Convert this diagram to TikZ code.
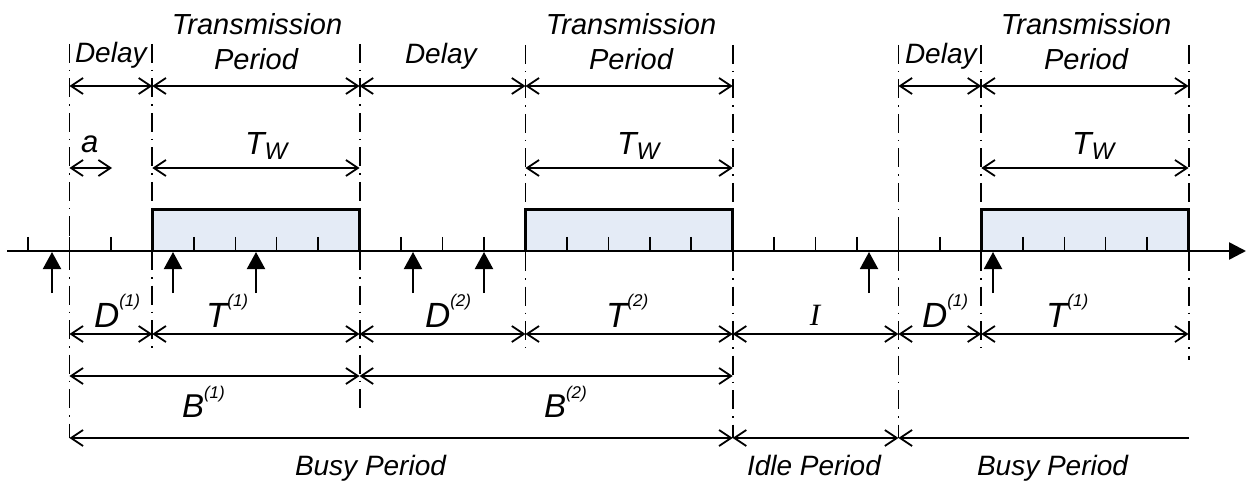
\documentclass[tikz,border=0pt]{standalone}
\usepackage{fontspec}
\setmainfont{Liberation Sans}
\newfontfamily\timesit{Liberation Serif}
\usetikzlibrary{arrows.meta}
\definecolor{boxfill}{HTML}{E4EBF6}
\newcommand{\fsz}[1]{\fontsize{#1}{#1}\selectfont}
\newcommand{\suplbl}[4]{{\fsz{#1}#2}\raisebox{#4}{\fsz{17}#3}}
\begin{document}
\begin{tikzpicture}[x=1pt,y=-1pt,
  every node/.style={inner sep=0pt, outer sep=0pt, font=\itshape},
  dim/.style={line width=1.6pt, >={Straight Barb[length=12pt,width=16pt,line width=1.8pt]}},
  vline/.style={line width=1.8pt, dash pattern=on 19pt off 7pt on 1.5pt off 7pt},
  tickst/.style={line width=1.5pt},
  axisst/.style={line width=2.4pt, -{Triangle[length=17pt,width=17pt]}},
  arrival/.style={line width=2pt, -{Triangle[length=17pt,width=18pt]}},
  boxborder/.style={line width=3pt},
  lbl/.style={font=\itshape\fontsize{28}{34}\selectfont, anchor=base west},
  ttl/.style={font=\itshape\fontsize{29}{34}\selectfont, anchor=base}
]
\useasboundingbox (0,0) rectangle (1246,486);
% boundaries
\coordinate (X1) at (69.45,0);
\coordinate (X2) at (152.35,0);
\coordinate (X3) at (359.6,0);
\coordinate (X4) at (525.4,0);
\coordinate (X5) at (732.65,0);
\coordinate (X6) at (898.45,0);
\coordinate (X7) at (981.35,0);
\coordinate (X8) at (1188.6,0);
\coordinate (Xa) at (112,0);
% rows
\coordinate (Rtop) at (0,86);
\coordinate (Rtw) at (0,168);
\coordinate (Rdt) at (0,334);
\coordinate (Rb) at (0,376);
\coordinate (Rbusy) at (0,438);
\coordinate (Bt) at (0,210);
\coordinate (Ax) at (0,251);
\coordinate (axL) at (7,251);
\coordinate (axR) at (1246,251);

% box fills
\fill[boxfill] (X2 |- Bt) rectangle (X3 |- Ax);
\fill[boxfill] (X4 |- Bt) rectangle (X5 |- Ax);
\fill[boxfill] (X7 |- Bt) rectangle (X8 |- Ax);

% ticks
\foreach \i in {0,...,28}
  \draw[tickst] ({28+41.45*\i},237) -- ({28+41.45*\i},251);

% axis
\draw[axisst] (axL) -- (axR);

% vertical dash-dot lines
\draw[vline] (X1 |- 0,44) -- (X1 |- 0,438);
\draw[vline] (X2 |- 0,44) -- (X2 |- 0,348);
\draw[vline] (X3 |- 0,44) -- (X3 |- 0,410);
\draw[vline] (X4 |- 0,45) -- (X4 |- 0,348);
\draw[vline] (X5 |- 0,45) -- (X5 |- 0,438);
\draw[vline] (X6 |- 0,45) -- (X6 |- 0,438);
\draw[vline] (X7 |- 0,45) -- (X7 |- 0,348);
\draw[vline] (X8 |- 0,45) -- (X8 |- 0,360);

% box borders
\draw[boxborder] (X2 |- Ax) -- (X2 |- Bt) -- (X3 |- Bt) -- (X3 |- Ax);
\draw[boxborder] (X4 |- Ax) -- (X4 |- Bt) -- (X5 |- Bt) -- (X5 |- Ax);
\draw[boxborder] (X7 |- Ax) -- (X7 |- Bt) -- (X8 |- Bt) -- (X8 |- Ax);

% arrivals
\foreach \x in {52,173,256,413,484,869,993}
  \draw[arrival] (\x,293) -- (\x,252);

% top row dimension arrows
\draw[dim,<->] (X1 |- Rtop) -- (X2 |- Rtop);
\draw[dim,<->] (X2 |- Rtop) -- (X3 |- Rtop);
\draw[dim,<->] (X3 |- Rtop) -- (X4 |- Rtop);
\draw[dim,<->] (X4 |- Rtop) -- (X5 |- Rtop);
\draw[dim,<->] (X6 |- Rtop) -- (X7 |- Rtop);
\draw[dim,<->] (X7 |- Rtop) -- (X8 |- Rtop);
% T_W row
\draw[dim,<->] (X1 |- Rtw) -- (Xa |- Rtw);
\draw[dim,<->] (X2 |- Rtw) -- (X3 |- Rtw);
\draw[dim,<->] (X4 |- Rtw) -- (X5 |- Rtw);
\draw[dim,<->] (X7 |- Rtw) -- (X8 |- Rtw);
% D/T row
\draw[dim,<->] (X1 |- Rdt) -- (X2 |- Rdt);
\draw[dim,<->] (X2 |- Rdt) -- (X3 |- Rdt);
\draw[dim,<->] (X3 |- Rdt) -- (X4 |- Rdt);
\draw[dim,<->] (X4 |- Rdt) -- (X5 |- Rdt);
\draw[dim,<->] (X5 |- Rdt) -- (X6 |- Rdt);
\draw[dim,<->] (X6 |- Rdt) -- (X7 |- Rdt);
\draw[dim,<->] (X7 |- Rdt) -- (X8 |- Rdt);
% B row
\draw[dim,<->] (X1 |- Rb) -- (X3 |- Rb);
\draw[dim,<->] (X3 |- Rb) -- (X5 |- Rb);
% busy row
\draw[dim,<->] (X1 |- Rbusy) -- (X5 |- Rbusy);
\draw[dim,<->] (X5 |- Rbusy) -- (X6 |- Rbusy);
\draw[dim,<-] (X6 |- Rbusy) -- (X8 |- Rbusy);

% top labels
\node[lbl] (dl1) at (75,63) {Delay};
\node[lbl] (dl2) at (405,64) {Delay};
\node[lbl] (dl3) at (905,64) {Delay};
\node[ttl] (tr1) at (257,35) {Transmission};
\node[ttl] (pe1) at (256,70) {Period};
\node[ttl] (tr2) at (631,35) {Transmission};
\node[ttl] (pe2) at (631,70) {Period};
\node[ttl] (tr3) at (1086,35) {Transmission};
\node[ttl] (pe3) at (1086,70) {Period};

% T_W labels
\node[anchor=base west] (tw1) at (245,155) {{\fsz{32}T}\raisebox{-5pt}{\fsz{24}W}};
\node[anchor=base west] (tw2) at (617,155) {{\fsz{32}T}\raisebox{-5pt}{\fsz{24}W}};
\node[anchor=base west] (tw3) at (1072,155) {{\fsz{32}T}\raisebox{-5pt}{\fsz{24}W}};
\node[anchor=base west] (alb) at (81,153) {\fsz{31}a};

% below labels
\node[anchor=base west] (d1) at (94,327) {\suplbl{35}{D}{(1)}{21pt}};
\node[anchor=base west] (t1) at (206,327) {\suplbl{35}{T}{(1)}{21pt}};
\node[anchor=base west] (d2) at (425,327) {\suplbl{35}{D}{(2)}{21pt}};
\node[anchor=base west] (t2) at (606,327) {\suplbl{35}{T}{(2)}{21pt}};
\node[anchor=base] (il) at (815,325) {\timesit\itshape\fsz{31}I};
\node[anchor=base west] (d3) at (922,327) {\suplbl{35}{D}{(1)}{21pt}};
\node[anchor=base west] (t3) at (1046,327) {\suplbl{35}{T}{(1)}{21pt}};
\node[anchor=base west] (b1) at (182,417) {\suplbl{33}{B}{(1)}{19pt}};
\node[anchor=base west] (b2) at (544,417) {\suplbl{33}{B}{(2)}{19pt}};

% bottom labels
\node[lbl] (bp1) at (295,475) {Busy Period};
\node[lbl] (ip) at (747,475) {Idle Period};
\node[lbl] (bp2) at (977,475) {Busy Period};
\end{tikzpicture}
\end{document}
